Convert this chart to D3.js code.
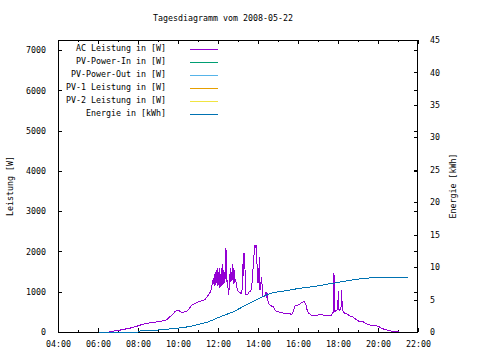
<!DOCTYPE html>
<html><head><meta charset="utf-8">
<script src="https://cdn.jsdelivr.net/npm/d3@7"></script>
<style>
html,body{margin:0;padding:0;background:#fff;}
svg{display:block;}
text{font-family:"DejaVu Sans Mono","Liberation Mono",monospace;font-size:8.3px;fill:#000;}
</style></head>
<body>
<svg id="c" width="480" height="360"></svg>
<script>
const title = "Tagesdiagramm vom 2008-05-22";
const yLabel = "Leistung [W]";
const y2Label = "Energie [kWh]";
const seriesNames = ["AC Leistung in [W]","PV-Power-In in [W]","PV-Power-Out in [W]","PV-1 Leistung in [W]","PV-2 Leistung in [W]","Energie in [kWh]"];
const seriesColors = ["#9400d3","#009e73","#56b4e9","#e69f00","#f0e442","#0072b2"];
const xTickLabels = ["04:00","06:00","08:00","10:00","12:00","14:00","16:00","18:00","20:00","22:00"];
const yTicks = [0,1000,2000,3000,4000,5000,6000,7000];
const y2Ticks = [0,5,10,15,20,25,30,35,40,45];

const acTimes = ["06:33","06:40","06:51","07:05","07:16","07:30","07:46","08:06","08:26","08:40","08:56","09:10","09:26","09:36","09:45","09:51","10:01","10:08","10:11","10:20","10:26","10:34","10:41","10:50","10:56","11:06","11:15","11:21","11:31","11:38","11:41","11:46",
"11:48","11:49","11:51","11:52","11:54","11:55","11:57","11:58","12:00","12:01","12:03","12:04","12:06","12:07","12:09","12:10","12:12","12:13","12:15","12:16","12:18","12:19","12:21","12:22","12:24","12:25","12:27","12:28","12:30","12:31","12:33","12:34","12:36","12:37","12:39","12:40","12:42","12:43","12:45","12:46","12:48","12:49","12:51","12:53","12:55","12:57","12:59","13:01","13:04","13:07","13:09","13:11","13:13","13:14","13:16","13:18","13:20","13:22","13:24","13:27","13:30","13:33","13:36","13:39","13:41","13:44","13:46","13:48","13:50","13:52","13:54","13:56","13:57","13:59","14:00","14:02","14:04","14:05","14:06","14:08","14:10","14:12","14:14","14:16","14:19","14:22","14:24","14:25","14:27","14:28","14:30","14:31","14:34","14:36","14:39","14:42","14:46","14:49","14:51","14:55","15:00","15:05","15:11","15:15","15:21","15:28","15:31","15:36","15:41","15:44","15:46","15:49","15:51","15:55","16:00","16:05","16:11","16:15","16:18","16:22","16:24","16:27","16:29","16:33","16:36","16:40","16:46","16:52","16:56","17:00","17:06","17:10","17:16","17:22","17:30","17:40","17:44","17:46","17:48","17:49","17:51","17:53","17:56","17:58","18:02","18:03","18:04","18:06","18:09","18:10","18:11","18:13","18:16","18:20","18:26","18:32","18:36","18:40","18:46","18:52","18:56","19:02","19:08","19:16","19:22","19:26","19:32","19:36","19:46","19:56","20:06","20:11","20:18","20:24","20:32","20:38","20:46","21:00","21:02"];
const acWatts = [0,15,30,45,65,85,115,170,215,235,250,270,300,380,440,505,545,500,480,500,520,580,670,700,730,760,790,800,920,1000,1125,1330,
1200,1450,1150,1500,1200,1550,1250,1600,1150,1500,1200,1580,1100,1450,1200,1600,1150,1700,1250,1550,1200,1500,1300,1650,2080,1400,1250,1300,1100,920,1000,1450,1300,1600,1250,1500,1350,1700,1300,1600,1200,1550,1250,1300,1200,1100,1050,1000,980,960,980,960,1100,1700,1400,1950,1950,1200,920,920,940,1000,1000,1050,1125,1400,1700,1900,2150,2100,2150,2130,1700,1500,1210,1300,1870,1300,1040,1100,1370,1200,900,880,880,900,1000,850,900,960,780,750,680,670,660,630,630,570,545,520,505,490,485,470,460,460,460,450,440,470,505,600,645,660,670,680,730,740,760,700,670,560,505,460,445,420,400,400,400,420,445,440,420,420,420,420,460,505,1460,520,505,530,545,560,1020,560,545,560,600,1040,1000,560,505,470,450,420,400,390,365,330,300,270,255,250,220,200,185,175,160,150,120,90,70,60,40,30,10,5,0];

const pvInTimes = [], pvInWatts = [];
const pvOutTimes = [], pvOutWatts = [];
const pv1Times = [], pv1Watts = [];
const pv2Times = [], pv2Watts = [];

const energyTimes = ["06:04","06:15","06:30","06:45","07:00","07:15","07:30","07:45","08:00","08:06","08:15","08:30","08:45","09:00","09:15","09:30","09:45","10:00","10:15","10:30","10:45","11:00","11:15","11:30","11:45","12:00","12:15","12:30","12:45","13:00","13:15","13:30","13:45","14:00","14:15","14:30","14:45","15:00","15:15","15:30","15:45","16:00","16:15","16:30","16:45","17:00","17:15","17:30","17:45","18:00","18:15","18:30","18:45","19:00","19:15","19:30","19:45","20:00","20:15","20:30","20:45","21:00","21:15","21:30"];
const energyKWh = [0,0,0,0,0,0,0,0,0,0.15,0.18,0.22,0.26,0.3,0.38,0.45,0.52,0.6,0.7,0.8,0.95,1.15,1.35,1.55,1.85,2.2,2.5,2.8,3.1,3.5,3.9,4.3,4.7,5.1,5.45,5.8,6.05,6.2,6.3,6.4,6.55,6.7,6.8,6.9,7.0,7.1,7.25,7.4,7.5,7.65,7.8,7.9,8.05,8.15,8.25,8.3,8.38,8.42,8.45,8.47,8.47,8.47,8.47,8.47];

const parse = d3.timeParse("%H:%M");
const L = 58, R = 418, T = 40, B = 332;
const svg = d3.select("#c");

const x = d3.scaleTime().domain([parse("04:00"), parse("22:00")]).range([L, R]);
const y = d3.scaleLinear().domain([0, 7250]).range([B, T]);
const y2 = d3.scaleLinear().domain([0, 45]).range([B, T]);

const majorX = xTickLabels.map(parse);
const minorX = d3.range(4, 23).filter(h => h % 2 === 1).map(h => parse(String(h).padStart(2,"0") + ":00"));

svg.append("text").attr("x", 223).attr("y", 21).attr("text-anchor", "middle").text(title);

const g = svg.append("g");
const fmtT = d3.timeFormat("%H:%M");
g.append("g").attr("transform", `translate(0,${B})`)
  .call(d3.axisBottom(x).tickValues(majorX).tickFormat(fmtT).tickSize(-4).tickPadding(9));
g.append("g").attr("transform", `translate(0,${B})`)
  .call(d3.axisBottom(x).tickValues(minorX).tickFormat("").tickSize(-2));
g.append("g").attr("transform", `translate(0,${T})`)
  .call(d3.axisTop(x).tickValues(majorX).tickFormat("").tickSize(-4));
g.append("g").attr("transform", `translate(0,${T})`)
  .call(d3.axisTop(x).tickValues(minorX).tickFormat("").tickSize(-2));
g.append("g").attr("transform", `translate(${L},0)`)
  .call(d3.axisLeft(y).tickValues(yTicks).tickFormat(d3.format("d")).tickSize(-4).tickPadding(12));
g.append("g").attr("transform", `translate(${R},0)`)
  .call(d3.axisRight(y).tickValues(yTicks).tickFormat("").tickSize(-4));
g.append("g").attr("transform", `translate(${R},0)`)
  .call(d3.axisRight(y2).tickValues(y2Ticks).tickFormat(d3.format("d")).tickSize(-4).tickPadding(12));
g.selectAll(".domain").remove();
g.selectAll("line").attr("stroke", "#000").attr("shape-rendering", "crispEdges");
g.selectAll("text").attr("font-family", null).attr("font-size", null);

svg.append("rect").attr("x", L + 0.5).attr("y", T + 0.5).attr("width", R - L - 1).attr("height", B - T)
  .attr("fill", "none").attr("stroke", "#000").attr("shape-rendering", "crispEdges");

svg.append("text").attr("transform", `translate(13,186) rotate(-90)`).attr("text-anchor", "middle").text(yLabel);
svg.append("text").attr("transform", `translate(456,186) rotate(-90)`).attr("text-anchor", "middle").text(y2Label);

const series = [
  {t: acTimes, v: acWatts, s: y},
  {t: pvInTimes, v: pvInWatts, s: y},
  {t: pvOutTimes, v: pvOutWatts, s: y},
  {t: pv1Times, v: pv1Watts, s: y},
  {t: pv2Times, v: pv2Watts, s: y},
  {t: energyTimes, v: energyKWh, s: y2}
];
series.forEach((se, i) => {
  const pts = se.t.map((t, k) => [parse(t), se.v[k]]);
  if (!pts.length) return;
  const line = d3.line().x(d => x(d[0])).y(d => se.s(d[1]));
  svg.append("path").datum(pts).attr("d", line).attr("fill", "none")
    .attr("stroke", seriesColors[i]).attr("stroke-width", 1).attr("shape-rendering", "crispEdges");
});

const lg = svg.append("g");
seriesNames.forEach((n, i) => {
  const yy = 49 + i * 13;
  lg.append("text").attr("x", 166).attr("y", yy + 1.5).attr("text-anchor", "end").text(n);
  lg.append("line").attr("x1", 190).attr("x2", 218).attr("y1", yy + 0.5).attr("y2", yy + 0.5)
    .attr("stroke", seriesColors[i]).attr("stroke-width", 1);
});
</script>
</body></html>
